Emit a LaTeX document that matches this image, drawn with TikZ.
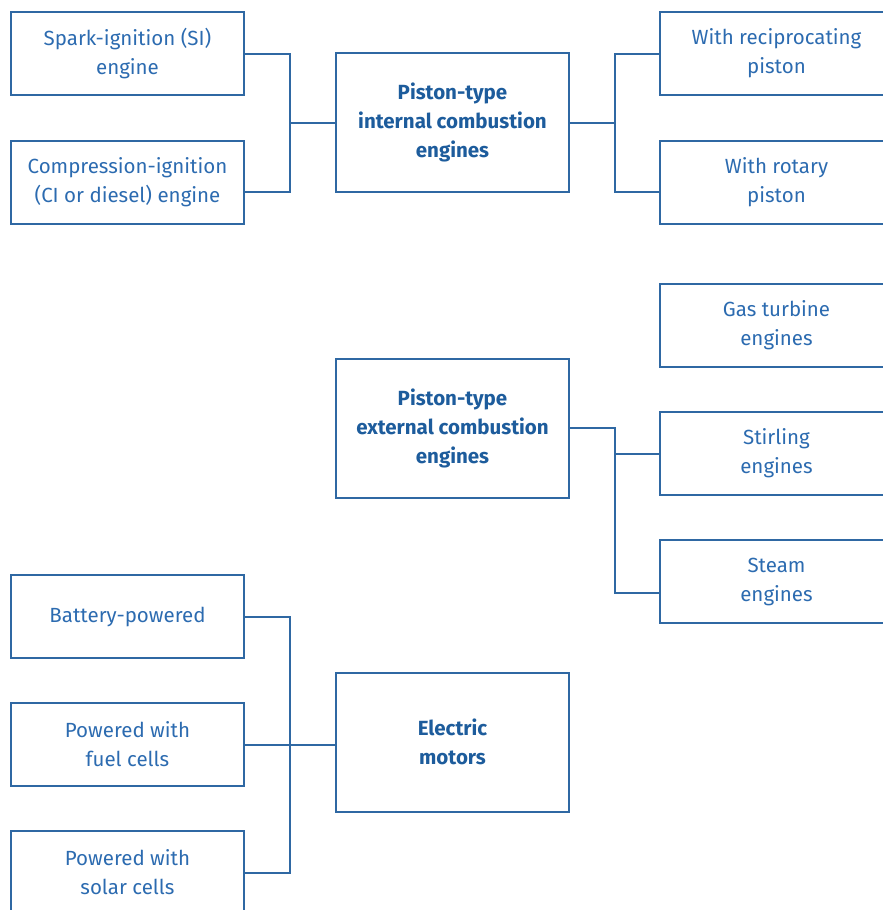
\documentclass[tikz,border=0pt]{standalone}
\usepackage{fontspec}
\setmainfont{Fira Sans}
\usetikzlibrary{positioning}

\definecolor{lineblue}{HTML}{2F68A3}
\definecolor{textblue}{HTML}{2C6BB0}
\definecolor{headblue}{HTML}{1D5C9C}

\tikzset{
  box/.style={draw=lineblue, line width=2pt, minimum width=233pt, minimum height=83pt,
    inner sep=0pt, align=center, text=textblue, font=\fontsize{20.5}{29}\selectfont},
  mainbox/.style={box, minimum height=139pt, text=headblue,
    font=\fontsize{20.5}{29}\selectfont\bfseries},
  link/.style={draw=lineblue, line width=2pt}
}

\begin{document}
\begin{tikzpicture}[x=1pt,y=-1pt]
\useasboundingbox (0,0) rectangle (883,910);

% internal combustion
\node[box] (si) at (127.5,53.5) {Spark-ignition (SI)\\engine};
\node[box] (ci) at (127.5,182.5) {Compression-ignition\\(CI or diesel) engine};
\node[mainbox] (ice) at (452.5,122.5) {Piston-type\\internal combustion\\engines};
\node[box] (rec) at (776.5,53.5) {With reciprocating\\piston};
\node[box] (rot) at (776.5,182.5) {With rotary\\piston};

\coordinate (jl) at (290,122.5);
\coordinate (jr) at (615,122.5);
\draw[link] (si.east) -| (jl) |- ([yshift=-9.5pt]ci.east);
\draw[link] (jl) -- (ice.west);
\draw[link] (ice.east) -- (jr);
\draw[link] (rec.west) -| (jr) |- ([yshift=-9.5pt]rot.west);

% external combustion
\node[box] (gas) at (776.5,325) {Gas turbine\\engines};
\node[mainbox] (ece) at (452.5,428) {Piston-type\\external combustion\\engines};
\node[box] (stirling) at (776.5,453.5) {Stirling\\engines};
\node[box] (steam) at (776.5,581.5) {Steam\\engines};

\coordinate (je) at (615,428);
\draw[link] (ece.east) -- (je) |- ([yshift=-11.5pt]steam.west);
\draw[link] (stirling.west) -- (stirling.west -| je);

% electric
\node[box] (batt) at (127.5,616.5) {Battery-powered};
\node[box] (fuel) at (127.5,744.5) {Powered with\\fuel cells};
\node[box] (solar) at (127.5,872.5) {Powered with\\solar cells};
\node[mainbox] (elec) at (452.5,742) {Electric\\motors};

\coordinate (jb) at (290,744.5);
\draw[link] (batt.east) -| (jb) |- (solar.east);
\draw[link] (fuel.east) -- (fuel.east -| elec.west);

\end{tikzpicture}
\end{document}
